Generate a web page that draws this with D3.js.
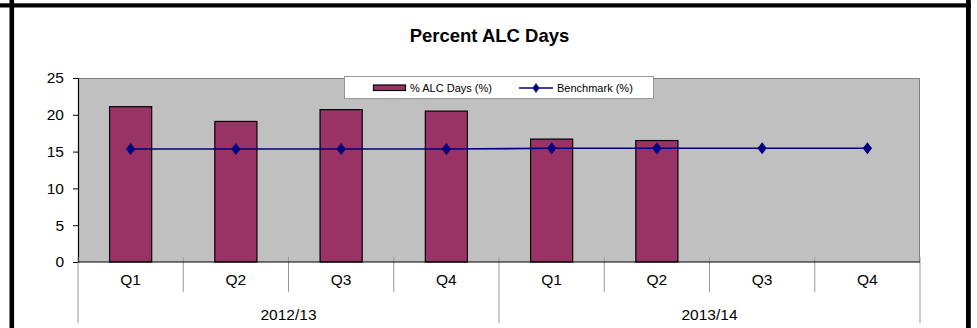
<!DOCTYPE html>
<html>
<head>
<meta charset="utf-8">
<script src="https://cdn.jsdelivr.net/npm/d3@7"></script>
<style>
  html, body { margin: 0; padding: 0; background: #fff; }
  svg { display: block; font-family: "Liberation Sans", Arial, sans-serif; }
</style>
</head>
<body>
<svg id="chart" width="977" height="328"></svg>
<script>
// Quarterly ALC days with benchmark
const quarters = ["Q1", "Q2", "Q3", "Q4", "Q1", "Q2", "Q3", "Q4"];
const years = ["2012/13", "2013/14"];
const alcDays = [21.1, 19.1, 20.7, 20.5, 16.7, 16.5, null, null];
const benchmark = [15.35, 15.35, 15.35, 15.35, 15.45, 15.45, 15.45, 15.45];
const yTicks = [0, 5, 10, 15, 20, 25];

const svg = d3.select("#chart");
const plot = { left: 78, right: 920, top: 78, bottom: 262 };

const keys = quarters.map((q, i) => i);
const x = d3.scaleBand().domain(keys).range([plot.left, plot.right]).paddingInner(0).paddingOuter(0);
const y = d3.scaleLinear().domain([0, 25]).range([plot.bottom, plot.top]);

// outer frame
svg.append("rect").attr("x", 0).attr("y", 3.3).attr("width", 971).attr("height", 4.2).attr("fill", "#000");
svg.append("rect").attr("x", 9.5).attr("y", 0).attr("width", 4.6).attr("height", 328).attr("fill", "#000");
svg.append("rect").attr("x", 966).attr("y", 0).attr("width", 4.8).attr("height", 328).attr("fill", "#000");

// title
svg.append("text")
  .attr("x", 489.5).attr("y", 41.5)
  .attr("text-anchor", "middle")
  .style("font-size", "18.5px").style("font-weight", "bold")
  .text("Percent ALC Days");

// plot background
svg.append("rect")
  .attr("x", plot.left).attr("y", plot.top)
  .attr("width", plot.right - plot.left).attr("height", plot.bottom - plot.top)
  .attr("fill", "#c0c0c0");
svg.append("path")
  .attr("d", `M${plot.left},${plot.top + 0.5}H${plot.right - 0.5}V${plot.bottom}`)
  .attr("fill", "none").attr("stroke", "#808080").attr("stroke-width", 1);

// bars
const barW = x.bandwidth() * 0.4;
svg.append("g").selectAll("rect")
  .data(alcDays.map((v, i) => ({ v, i })).filter(d => d.v != null))
  .join("rect")
  .attr("x", d => x(d.i) + (x.bandwidth() - barW) / 2)
  .attr("y", d => y(d.v))
  .attr("width", barW)
  .attr("height", d => y(0) - y(d.v))
  .attr("fill", "#993366")
  .attr("stroke", "#000").attr("stroke-width", 1.2);

// benchmark line
const cx = i => x(i) + x.bandwidth() / 2;
svg.append("path")
  .datum(benchmark)
  .attr("d", d3.line().x((d, i) => cx(i)).y(d => y(d)))
  .attr("fill", "none").attr("stroke", "#000080").attr("stroke-width", 1.6);
const diamond = d3.symbol().type(d3.symbolDiamond).size(42);
svg.append("g").selectAll("path")
  .data(benchmark)
  .join("path")
  .attr("transform", (d, i) => `translate(${cx(i)},${y(d)}) scale(1.35,1)`)
  .attr("d", diamond)
  .attr("fill", "#000080");

// y axis
const yAxis = svg.append("g")
  .attr("transform", `translate(${plot.left},0)`)
  .call(d3.axisLeft(y).tickValues(yTicks).tickSize(5).tickPadding(9));
yAxis.select(".domain").attr("stroke", "#000").attr("stroke-width", 1.2);
yAxis.selectAll(".tick line").attr("stroke", "#000");
yAxis.selectAll(".tick text")
  .style("font-size", "15.5px").attr("fill", "#000")
  .style("font-family", "'Liberation Sans', Arial, sans-serif");

// x axis: quarter labels
const xAxis = svg.append("g")
  .attr("transform", `translate(0,${plot.bottom})`)
  .call(d3.axisBottom(x).tickSize(0).tickPadding(12).tickFormat(i => quarters[i]));
xAxis.select(".domain").remove();
xAxis.selectAll(".tick text")
  .style("font-size", "15.5px").attr("fill", "#000")
  .style("font-family", "'Liberation Sans', Arial, sans-serif");

// separators between quarters and years
const edges = d3.range(keys.length + 1).map(i => plot.left + i * x.step());
svg.append("g").selectAll("line")
  .data(edges)
  .join("line")
  .attr("x1", d => d).attr("x2", d => d)
  .attr("y1", plot.bottom - 5)
  .attr("y2", (d, i) => (i % 4 === 0) ? 323 : 292)
  .attr("stroke", "#999").attr("stroke-width", 1);

// x axis line
svg.append("line")
  .attr("x1", plot.left).attr("x2", plot.right)
  .attr("y1", plot.bottom).attr("y2", plot.bottom)
  .attr("stroke", "#000").attr("stroke-width", 1.2);

// year labels
svg.append("g").selectAll("text")
  .data(years)
  .join("text")
  .attr("x", (d, i) => (x(i * 4) + x(i * 4 + 3) + x.bandwidth()) / 2)
  .attr("y", 319.5)
  .attr("text-anchor", "middle")
  .style("font-size", "15.5px")
  .text(d => d);

// legend
const lg = svg.append("g");
lg.append("rect")
  .attr("x", 344.5).attr("y", 76.5).attr("width", 309).attr("height", 22)
  .attr("fill", "#fff").attr("stroke", "#999").attr("stroke-width", 1);
lg.append("rect")
  .attr("x", 373.5).attr("y", 85).attr("width", 32).attr("height", 5.5)
  .attr("fill", "#993366").attr("stroke", "#000").attr("stroke-width", 1.2);
lg.append("text")
  .attr("x", 410).attr("y", 92).style("font-size", "11px")
  .text("% ALC Days (%)");
lg.append("line")
  .attr("x1", 519).attr("x2", 553).attr("y1", 88).attr("y2", 88)
  .attr("stroke", "#000080").attr("stroke-width", 1.6);
lg.append("path")
  .attr("transform", "translate(536,88) scale(1.2,1)")
  .attr("d", d3.symbol().type(d3.symbolDiamond).size(28))
  .attr("fill", "#000080");
lg.append("text")
  .attr("x", 557).attr("y", 92).style("font-size", "11px")
  .text("Benchmark (%)");
</script>
</body>
</html>
